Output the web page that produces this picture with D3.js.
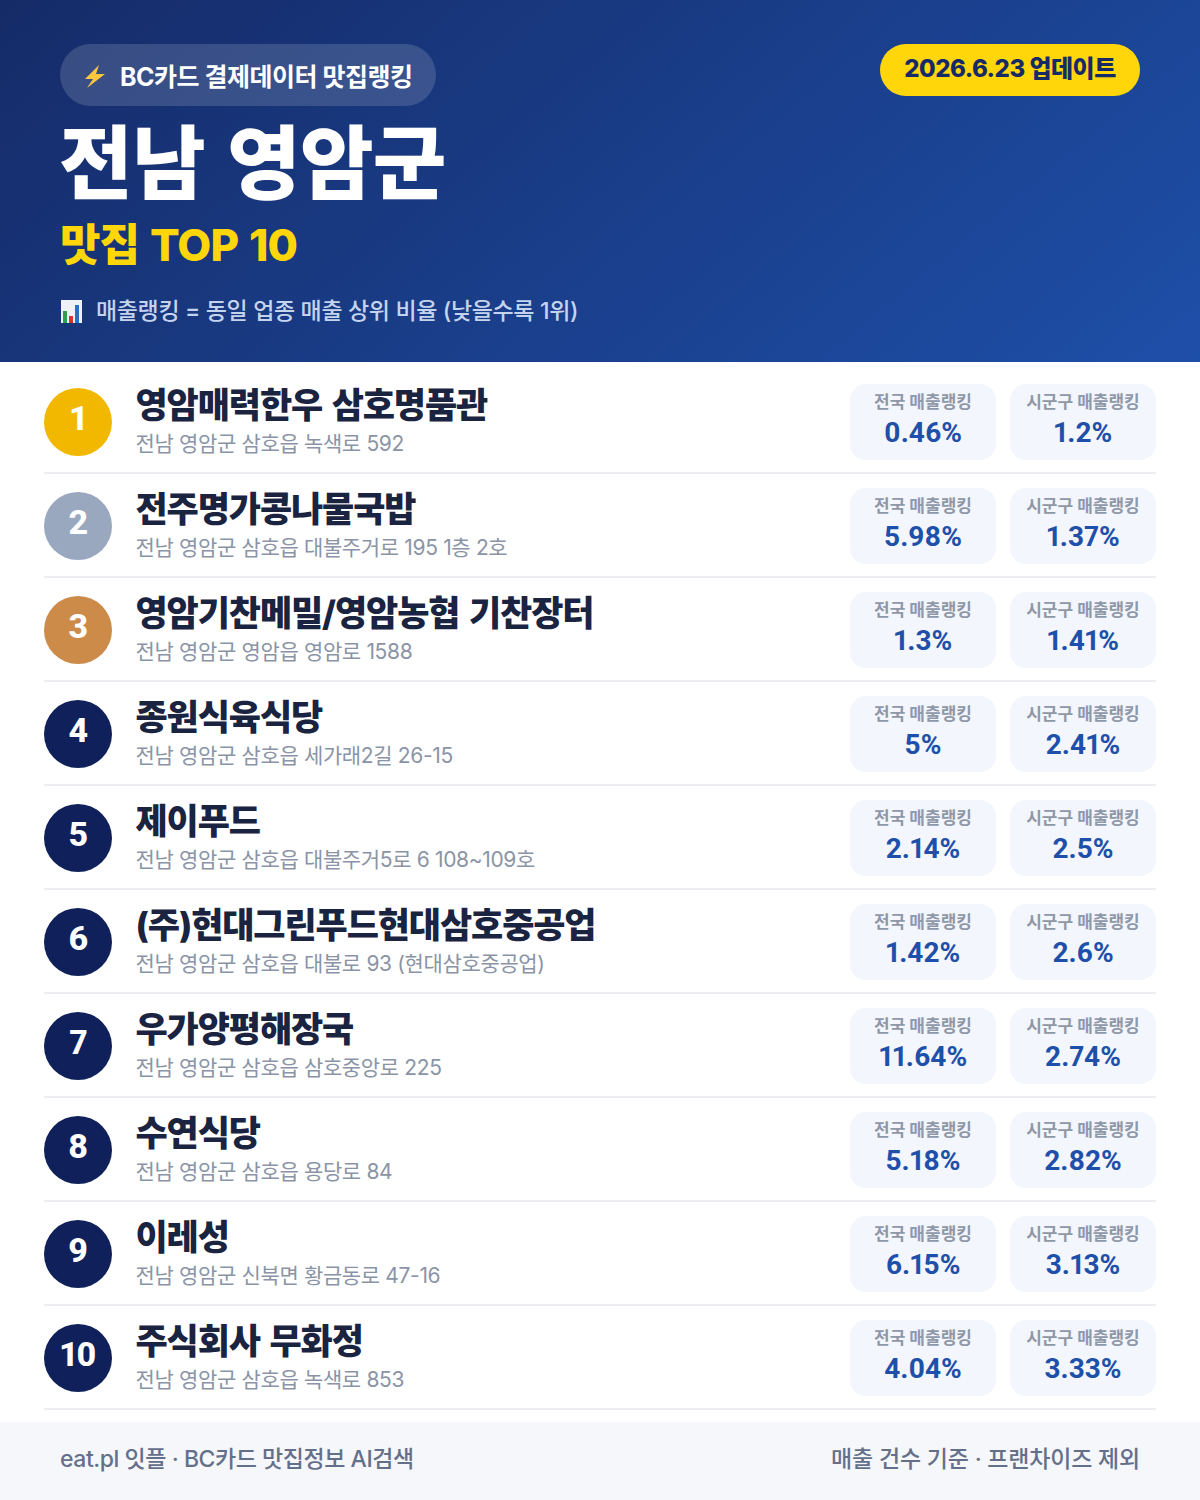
<!DOCTYPE html>
<html lang="ko">
<head>
<meta charset="utf-8">
<script src="https://cdn.jsdelivr.net/npm/d3@7"></script>
<style>
html, body { margin: 0; padding: 0; background: #fff; }
svg { display: block; }
text { font-family: Inter, "Noto Sans CJK KR", sans-serif; }
text.num { font-family: Roboto, "Noto Sans CJK KR", sans-serif; font-feature-settings: "pnum" 1; font-variant-numeric: proportional-nums; }
</style>
</head>
<body>
<div id="chart"></div>
<script>
var ranks = [1, 2, 3, 4, 5, 6, 7, 8, 9, 10];
var names = ['영암매력한우 삼호명품관', '전주명가콩나물국밥', '영암기찬메밀/영암농협 기찬장터', '종원식육식당', '제이푸드',
    '(주)현대그린푸드현대삼호중공업', '우가양평해장국', '수연식당', '이레성', '주식회사 무화정'];
var addresses = ['전남 영암군 삼호읍 녹색로 592', '전남 영암군 삼호읍 대불주거로 195 1층 2호', '전남 영암군 영암읍 영암로 1588',
    '전남 영암군 삼호읍 세가래2길 26-15', '전남 영암군 삼호읍 대불주거5로 6 108~109호', '전남 영암군 삼호읍 대불로 93 (현대삼호중공업)',
    '전남 영암군 삼호읍 삼호중앙로 225', '전남 영암군 삼호읍 용당로 84', '전남 영암군 신북면 황금동로 47-16', '전남 영암군 삼호읍 녹색로 853'];
var nationalRank = [0.46, 5.98, 1.3, 5, 2.14, 1.42, 11.64, 5.18, 6.15, 4.04];
var districtRank = [1.2, 1.37, 1.41, 2.41, 2.5, 2.6, 2.74, 2.82, 3.13, 3.33];
var medalColors = ['#f2b800', '#9aa8bf', '#cd8b4a'];

var width = 1200, height = 1500;
var svg = d3.select('#chart').append('svg').attr('width', width).attr('height', height);

// header gradient
var grad = svg.append('defs').append('linearGradient').attr('id', 'hdr')
    .attr('gradientUnits', 'userSpaceOnUse')
    .attr('x1', 245).attr('y1', -245).attr('x2', 955).attr('y2', 605);
grad.append('stop').attr('offset', 0).attr('stop-color', '#152a66');
grad.append('stop').attr('offset', 1).attr('stop-color', '#1e50aa');
svg.append('rect').attr('width', width).attr('height', 362).attr('fill', 'url(#hdr)');

function label(parent, x, y, str, size, weight, fill, anchor, spacing) {
    return parent.append('text').attr('x', x).attr('y', y).text(str)
        .attr('font-size', size).attr('font-weight', weight).attr('fill', fill)
        .attr('text-anchor', anchor || 'start')
        .attr('letter-spacing', spacing || 0);
}

// header badge
svg.append('rect').attr('x', 60).attr('y', 44).attr('width', 376).attr('height', 62).attr('rx', 31)
    .attr('fill', '#fff').attr('fill-opacity', 0.15);
svg.append('path').attr('d', 'M99 65 L85 79 L93 79 L87 88 L105 74 L96 74 Z').attr('fill', '#ffc83d');
label(svg, 120, 86, 'BC카드 결제데이터 맛집랭킹', 25, 700, '#fff', 'start', -0.5);

svg.append('rect').attr('x', 880).attr('y', 44).attr('width', 260).attr('height', 52).attr('rx', 26).attr('fill', '#ffd60a');
label(svg, 1010, 77, '2026.6.23 업데이트', 24, 800, '#152a66', 'middle', -0.5);

label(svg, 59, 192, '전남 영암군', 80, 900, '#fff', 'start', -0.7).attr('word-spacing', 7);
label(svg, 60, 261, '맛집 TOP 10', 44, 800, '#ffd60a', 'start', -0.9).attr('word-spacing', 2);

// little bar chart icon
var icon = svg.append('g');
icon.append('rect').attr('x', 61).attr('y', 300).attr('width', 21).attr('height', 23).attr('fill', '#eef2f7');
icon.append('rect').attr('x', 63).attr('y', 311).attr('width', 4).attr('height', 12).attr('fill', '#2e9e4f');
icon.append('rect').attr('x', 69).attr('y', 316).attr('width', 4).attr('height', 7).attr('fill', '#d9342b');
icon.append('rect').attr('x', 75).attr('y', 305).attr('width', 4).attr('height', 18).attr('fill', '#2a6fc4');
label(svg, 96, 319, '매출랭킹 = 동일 업종 매출 상위 비율 (낮을수록 1위)', 23, 500, '#c5d4ee', 'start', -0.35);

// rows
var y = d3.scaleBand().domain(ranks).range([370, 1410]);
var rows = svg.selectAll('g.row').data(ranks).enter().append('g')
    .attr('class', 'row')
    .attr('transform', function (d) { return 'translate(0,' + y(d) + ')'; });

rows.append('line').attr('x1', 44).attr('x2', 1156).attr('y1', 103).attr('y2', 103)
    .attr('stroke', '#eceef2').attr('stroke-width', 2);
rows.append('circle').attr('cx', 78).attr('cy', 52).attr('r', 34)
    .attr('fill', function (d, i) { return medalColors[i] || '#10205a'; });
rows.append('text').attr('class', 'num').attr('x', 78).attr('y', 60).attr('text-anchor', 'middle')
    .attr('font-size', 34).attr('font-weight', 800).attr('fill', '#fff').attr('letter-spacing', -0.5)
    .text(function (d) { return d; });
rows.append('text').attr('x', 135.5).attr('y', 48)
    .attr('font-size', 35).attr('font-weight', 800).attr('fill', '#1a2340').attr('letter-spacing', -1.1)
    .attr('word-spacing', 3)
    .text(function (d, i) { return names[i]; });
rows.append('text').attr('x', 135.5).attr('y', 81)
    .attr('font-size', 21).attr('font-weight', 400).attr('fill', '#8a94a6').attr('letter-spacing', -0.35)
    .text(function (d, i) { return addresses[i]; });

var cards = [
    { title: '전국 매출랭킹', values: nationalRank, x: 850, w: 146 },
    { title: '시군구 매출랭킹', values: districtRank, x: 1010, w: 146 }
];
cards.forEach(function (c) {
    rows.append('rect').attr('x', c.x).attr('y', 14).attr('width', c.w).attr('height', 76).attr('rx', 16)
        .attr('fill', '#f3f6fc');
    rows.append('text').attr('x', c.x + c.w / 2).attr('y', 37.5).attr('text-anchor', 'middle')
        .attr('font-size', 17).attr('font-weight', 700).attr('fill', '#8f98a8')
        .text(c.title);
    rows.append('text').attr('class', 'num').attr('x', c.x + c.w / 2).attr('y', 72).attr('text-anchor', 'middle')
        .attr('font-size', 28).attr('font-weight', 700).attr('fill', '#1e50aa')
        .text(function (d, i) { return c.values[i] + '%'; });
});

// footer
svg.append('rect').attr('y', 1422).attr('width', width).attr('height', 78).attr('fill', '#f5f7fa');
label(svg, 60, 1467, 'eat.pl 잇플 · BC카드 맛집정보 AI검색', 23, 500, '#64708a', 'start', -0.45);
label(svg, 1140, 1467, '매출 건수 기준 · 프랜차이즈 제외', 23, 500, '#64708a', 'end', -0.2);
</script>
</body>
</html>
